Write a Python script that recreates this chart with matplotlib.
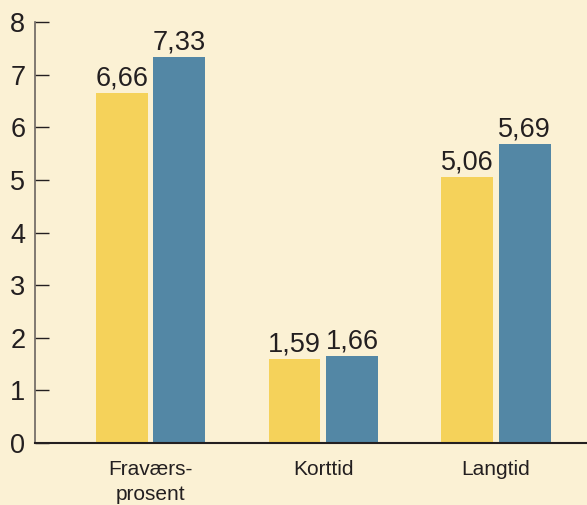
import numpy as np
import matplotlib.pyplot as plt

plt.rcParams['font.family'] = ['Liberation Sans', 'DejaVu Sans']

categories = ["Fraværs-\nprosent", "Korttid", "Langtid"]
series_a = [6.66, 1.59, 5.06]
series_b = [7.33, 1.66, 5.69]
labels_a = ["6,66", "1,59", "5,06"]
labels_b = ["7,33", "1,66", "5,69"]

bg = "#fbf1d4"
yellow = "#f5d25a"
blue = "#5387a5"

fig = plt.figure(figsize=(5.87, 5.05), dpi=100, facecolor=bg)
ax = fig.add_axes([0.0596, 0.1228, 0.9404, 0.8336], facecolor=bg)

x = np.arange(len(categories))
w = 0.30
off = 0.166
bars_a = ax.bar(x - off, series_a, w, color=yellow)
bars_b = ax.bar(x + off, series_b, w, color=blue)

for bars, labs in [(bars_a, labels_a), (bars_b, labels_b)]:
    for b, t in zip(bars, labs):
        ax.annotate(t, (b.get_x() + b.get_width() / 2, b.get_height()),
                    xytext=(0, 1), textcoords="offset points",
                    ha="center", va="bottom", fontsize=19.5, color="#231f20")

ax.set_xlim(-0.668, 2.526)
ax.set_ylim(0, 8)
ax.set_yticks(range(0, 9))
ax.set_xticks(x)
ax.set_xticklabels(categories, fontsize=15, color="#231f20", linespacing=1.45)

ax.spines["top"].set_visible(False)
ax.spines["right"].set_visible(False)
ax.spines["left"].set_color("#6b6560")
ax.spines["left"].set_linewidth(1.2)
ax.spines["bottom"].set_color("#231f20")
ax.spines["bottom"].set_linewidth(1.5)

ax.tick_params(axis="y", direction="in", length=10, width=1, color="#231f20",
               labelsize=19.5, labelcolor="#231f20", pad=7)
ax.tick_params(axis="x", length=0, pad=12)

plt.savefig("out.png", dpi=100, facecolor=bg)
